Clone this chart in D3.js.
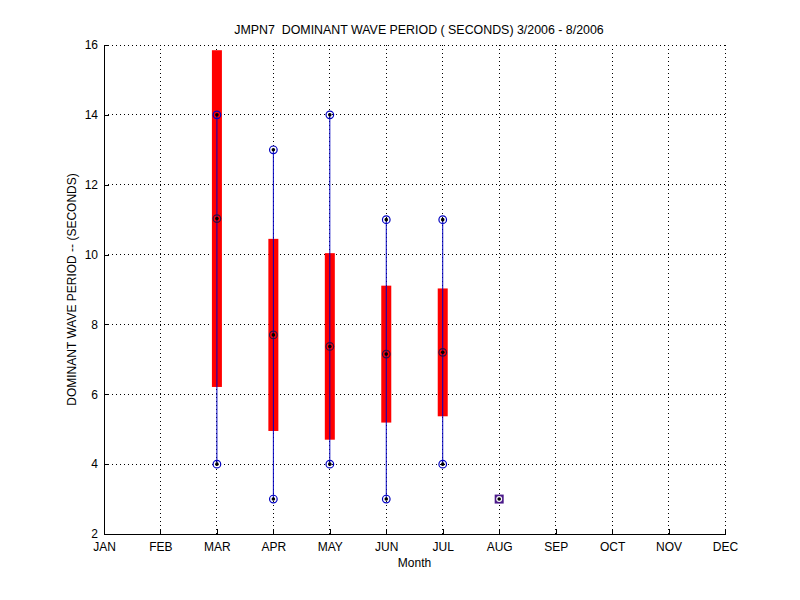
<!DOCTYPE html>
<html><head><meta charset="utf-8">
<script src="https://cdn.jsdelivr.net/npm/d3@7"></script>
<style>body{margin:0;background:#fff}svg{display:block}text{font-family:"Liberation Sans",Arial,sans-serif;}</style>
</head><body><svg id="c" width="800" height="600"></svg>
<script>
const months = ["JAN","FEB","MAR","APR","MAY","JUN","JUL","AUG","SEP","OCT","NOV","DEC"];
const dataMonths = ["MAR","APR","MAY","JUN","JUL","AUG"];
const meanVals = [11.03, 7.70, 7.37, 7.15, 7.20, 3.0];
const stdVals  = [4.82, 2.75, 2.67, 1.96, 1.83, 0.0];
const maxVals  = [14, 13, 14, 11, 11, 3];
const minVals  = [4, 3, 4, 3, 4, 3];
const yTicks = [2,4,6,8,10,12,14,16];

const svg = d3.select("#c");
const L=104, R=725, T=45, B=534;
const x = d3.scalePoint().domain(months).range([L,R]);
const y = d3.scaleLinear().domain([2,16]).range([B,T]);

svg.append("rect").attr("width",800).attr("height",600).attr("fill","#fff");

// grid
const g = svg.append("g");
months.forEach(m=>{ if(m!=="JAN") g.append("line").attr("x1",x(m)).attr("x2",x(m)).attr("y1",T).attr("y2",B)
  .attr("stroke","#000").attr("stroke-width",1).attr("stroke-dasharray","1,3").attr("shape-rendering","crispEdges");});
yTicks.forEach(v=>{ if(v!==2) g.append("line").attr("x1",L).attr("x2",R).attr("y1",y(v)).attr("y2",y(v))
  .attr("stroke","#000").attr("stroke-width",1).attr("stroke-dasharray","1,3").attr("shape-rendering","crispEdges");});

// axes
const ax = svg.append("g").attr("transform",`translate(0,${B})`)
  .call(d3.axisBottom(x).tickSizeInner(-5).tickSizeOuter(0).tickPadding(8));
const ay = svg.append("g").attr("transform",`translate(${L},0)`)
  .call(d3.axisLeft(y).tickValues(yTicks).tickSizeInner(-5).tickSizeOuter(0).tickPadding(8));
[ax,ay].forEach(a=>{a.selectAll("path,line").attr("stroke","#000").attr("shape-rendering","crispEdges");
  a.selectAll("text").attr("font-size",12).attr("fill","#000").attr("font-family","'Liberation Sans',Arial,sans-serif");});
ay.selectAll("text").attr("dx",2);

// whiskers
const d = dataMonths.map((m,i)=>({m,mean:meanVals[i],sd:stdVals[i],max:maxVals[i],min:minVals[i]}));
d.forEach(o=>{
  const cx = x(o.m);
  if(o.sd>0){
    svg.append("rect").attr("x",cx-5).attr("width",10)
      .attr("y",y(o.mean+o.sd)).attr("height",y(o.mean-o.sd)-y(o.mean+o.sd)).attr("fill","#ff0000");
  }
  svg.append("line").attr("x1",cx).attr("x2",cx).attr("y1",y(o.max)).attr("y2",y(o.min))
    .attr("stroke","#0000c0").attr("stroke-width",1);
  if(o.sd===0 && o.max===o.min){
    svg.append("rect").attr("x",cx-4.5).attr("y",y(o.mean)-4.5).attr("width",9).attr("height",9).attr("fill","#4b1a8a");
    svg.append("circle").attr("cx",cx).attr("cy",y(o.mean)).attr("r",3).attr("fill","#fff");
    svg.append("circle").attr("cx",cx).attr("cy",y(o.mean)).attr("r",1.8).attr("fill","#000");
    return;
  }
  [o.max,o.min].forEach(v=>{
    svg.append("circle").attr("cx",cx).attr("cy",y(v)).attr("r",3.8).attr("fill","none").attr("stroke","#0000c0").attr("stroke-width",1.2);
    svg.append("circle").attr("cx",cx).attr("cy",y(v)).attr("r",1.8).attr("fill","#000");
  });
  svg.append("circle").attr("cx",cx).attr("cy",y(o.mean)).attr("r",3.8).attr("fill","none").attr("stroke","#301040").attr("stroke-width",1.2);
  svg.append("circle").attr("cx",cx).attr("cy",y(o.mean)).attr("r",1.8).attr("fill","#000");
});

// labels
svg.append("text").attr("x",419).attr("y",34).attr("text-anchor","middle").attr("font-size",12.4)
  .text("JMPN7  DOMINANT WAVE PERIOD ( SECONDS) 3/2006 - 8/2006").attr("xml:space","preserve").style("white-space","pre");
svg.append("text").attr("x",(L+R)/2).attr("y",567).attr("text-anchor","middle").attr("font-size",12).text("Month");
svg.append("text").attr("transform",`translate(76,${(T+B)/2}) rotate(-90)`).attr("text-anchor","middle").attr("font-size",12)
  .text("DOMINANT WAVE PERIOD -- (SECONDS)");
</script></body></html>
